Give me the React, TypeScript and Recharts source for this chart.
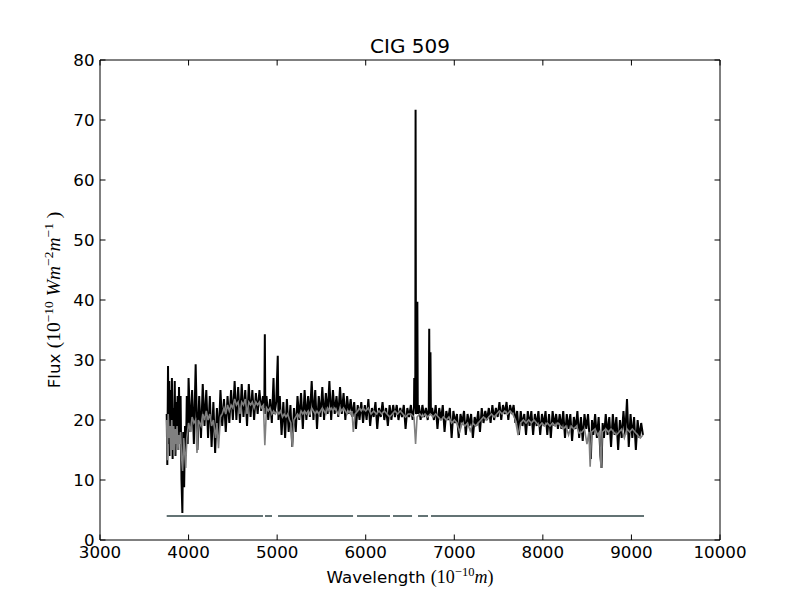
import React from "react";
import { LineChart, Line, XAxis, YAxis, ReferenceLine } from "recharts";

// Observed spectrum (black): [wavelength Å, flux]
const observedSpectrum: [number, number][] = [
  [3753, 21], [3760, 12.5], [3768, 29], [3775, 16], [3782, 26.5], [3790, 14], [3798, 25], [3805, 17],
  [3812, 27], [3820, 13.5], [3828, 22], [3836, 19], [3844, 26.5], [3852, 14], [3860, 23], [3868, 17],
  [3876, 24], [3884, 15], [3892, 25.5], [3900, 17], [3910, 24], [3920, 10], [3930, 4.5], [3940, 18],
  [3950, 8.8], [3960, 19], [3970, 14], [3980, 24], [3990, 16],
  [4000, 27], [4020, 18], [4040, 25], [4060, 16], [4080, 29.3], [4100, 15], [4120, 24], [4140, 17],
  [4160, 26], [4180, 19], [4200, 25], [4220, 17], [4240, 24], [4260, 15.5], [4280, 23], [4300, 14.5],
  [4320, 22], [4340, 17], [4360, 25], [4380, 19], [4400, 23.5], [4420, 18], [4440, 24], [4460, 19.5],
  [4480, 25], [4500, 20], [4520, 26.5], [4540, 20], [4560, 25.5], [4580, 19.5], [4600, 26], [4620, 20.5],
  [4640, 25], [4660, 19], [4680, 26], [4700, 20.5], [4720, 25], [4740, 20], [4760, 24.5], [4780, 21],
  [4800, 25], [4820, 21.5], [4840, 24], [4855, 22], [4861, 34.3], [4867, 21], [4880, 24], [4900, 20],
  [4920, 23.5], [4940, 19.5], [4959, 27], [4970, 21], [4990, 23], [5007, 30.7], [5015, 20], [5030, 24],
  [5050, 17.5], [5070, 23], [5090, 17], [5110, 23.5], [5130, 18], [5150, 22.5], [5170, 15.5], [5190, 22],
  [5210, 18], [5230, 24], [5250, 20], [5270, 24.5], [5290, 18.5], [5310, 25], [5330, 20], [5350, 24],
  [5370, 20.5], [5390, 26.5], [5410, 20], [5430, 25], [5450, 18.5], [5470, 24], [5490, 20.5], [5510, 25.5],
  [5530, 20], [5550, 24.5], [5570, 21], [5590, 26.5], [5610, 20], [5630, 25], [5650, 21], [5670, 24],
  [5690, 20.5], [5710, 25.5], [5730, 21], [5750, 24.5], [5770, 20], [5790, 24], [5810, 21], [5830, 23.5],
  [5850, 20.5], [5870, 23], [5890, 18.5], [5910, 22.5], [5930, 20], [5950, 23], [5970, 19.5], [5990, 22.5],
  [6010, 20], [6030, 23.5], [6050, 19], [6070, 22], [6090, 20.5], [6110, 23], [6130, 18.5], [6150, 22],
  [6170, 20.5], [6190, 23], [6210, 20], [6230, 22], [6250, 19], [6270, 22.5], [6290, 20], [6310, 22.5],
  [6330, 20.5], [6350, 22.5], [6370, 20], [6390, 22], [6410, 20.5], [6430, 22.5], [6450, 18.5], [6470, 22],
  [6490, 20.5], [6510, 22.5], [6530, 20], [6545, 22], [6548, 27], [6552, 22], [6560, 27.5], [6563, 71.7],
  [6568, 21], [6580, 22], [6583, 39.7], [6588, 21], [6600, 22.5], [6620, 20], [6640, 22.5], [6660, 20.5],
  [6680, 22], [6700, 20], [6712, 22], [6717, 35.2], [6722, 21], [6727, 22], [6731, 31.3], [6736, 21],
  [6750, 22], [6770, 20], [6790, 22.5], [6810, 18.5], [6830, 22], [6850, 20], [6870, 22.5], [6890, 18],
  [6910, 21.5], [6930, 20], [6950, 22], [6970, 17], [6990, 21.5], [7010, 19.5], [7030, 21], [7050, 17],
  [7070, 21], [7090, 19.5], [7110, 21.5], [7130, 17.5], [7150, 21], [7170, 19], [7190, 21], [7210, 17],
  [7230, 20.5], [7250, 19], [7270, 21.5], [7290, 18], [7310, 22], [7330, 19.5], [7350, 21.5], [7370, 20],
  [7390, 22], [7410, 19.5], [7430, 22.5], [7450, 20], [7470, 22], [7490, 20.5], [7510, 23], [7530, 20],
  [7550, 22.5], [7570, 21], [7590, 23], [7610, 20], [7630, 22.5], [7650, 21], [7670, 22.5], [7690, 19.5],
  [7710, 21.5], [7730, 17.5], [7750, 21.5], [7770, 19], [7790, 21], [7810, 17.5], [7830, 21.5], [7850, 19],
  [7870, 21.5], [7890, 17.5], [7910, 21], [7930, 19], [7950, 21.5], [7970, 17.5], [7990, 21], [8010, 19],
  [8030, 21.5], [8050, 17.5], [8070, 21], [8090, 17], [8110, 21.5], [8130, 19], [8150, 21], [8170, 18.5],
  [8190, 21], [8210, 18.5], [8230, 21.5], [8250, 17], [8270, 21], [8290, 18.5], [8310, 21], [8330, 16.5],
  [8350, 20.5], [8370, 18.5], [8390, 21.5], [8410, 17], [8430, 20.5], [8450, 16.5], [8470, 21], [8490, 18.5],
  [8510, 21], [8530, 16.5], [8542, 13.5], [8555, 20], [8570, 17.5], [8590, 21], [8610, 17], [8630, 20.5],
  [8650, 14], [8662, 12], [8675, 19.5], [8690, 17], [8710, 21], [8730, 17.5], [8750, 20.5], [8770, 15.5],
  [8790, 21], [8810, 17.5], [8830, 20.5], [8850, 15], [8870, 20], [8890, 17], [8910, 21.5], [8930, 17.5],
  [8950, 23.5], [8970, 15.5], [8990, 21], [9010, 17], [9030, 20.5], [9050, 15], [9070, 20], [9090, 17],
  [9110, 19.5], [9130, 17.5],
];

// Model / synthetic spectrum (grey): [wavelength Å, flux]
const modelSpectrum: [number, number][] = [
  [3753, 20], [3760, 13.3], [3770, 21], [3780, 17], [3790, 19], [3800, 14], [3810, 20], [3820, 15],
  [3830, 19], [3840, 14], [3850, 18.5], [3860, 16], [3870, 19], [3880, 15], [3890, 17.5], [3900, 16],
  [3910, 18], [3920, 14], [3933, 11.5], [3945, 17], [3968, 12], [3980, 17], [4000, 19.5], [4020, 18],
  [4040, 20.5], [4060, 19.5], [4080, 20], [4095, 14.5], [4110, 20], [4140, 19], [4160, 21], [4180, 20],
  [4200, 21.5], [4220, 20], [4240, 21], [4260, 19], [4280, 20], [4305, 17], [4320, 19.5], [4338, 15.3],
  [4360, 20.5], [4380, 21], [4400, 22], [4420, 21], [4440, 22.5], [4460, 21.5], [4480, 22.5], [4500, 22],
  [4520, 23.5], [4540, 22.5], [4560, 23], [4580, 21], [4600, 23], [4620, 22.5], [4640, 23.5], [4660, 21],
  [4680, 23], [4700, 22.5], [4720, 23], [4740, 22], [4760, 23], [4780, 22.5], [4800, 23], [4820, 22],
  [4845, 22.5], [4861, 15.8], [4880, 22], [4900, 21.5], [4920, 22], [4940, 21], [4960, 21.5], [4980, 21],
  [5000, 21.5], [5020, 21], [5040, 21.5], [5060, 20.5], [5080, 21], [5100, 20.5], [5120, 21], [5140, 20],
  [5155, 19.5], [5170, 15.5], [5190, 20], [5210, 20.5], [5230, 21], [5250, 20.5], [5270, 21.5], [5290, 21],
  [5310, 21.5], [5330, 21], [5350, 21.5], [5370, 21], [5390, 22], [5410, 21.5], [5430, 21], [5450, 21.5],
  [5470, 21], [5490, 21.5], [5510, 22], [5530, 21.5], [5550, 21], [5570, 22], [5590, 21.5], [5610, 22],
  [5630, 21.5], [5650, 22], [5670, 21.5], [5690, 21], [5710, 22], [5730, 21.5], [5750, 22], [5770, 21.5],
  [5790, 21], [5810, 21.5], [5830, 21], [5845, 21.5], [5860, 18], [5880, 21], [5910, 21.5], [5930, 22],
  [5950, 21.5], [5970, 22], [6000, 21.5], [6030, 22], [6060, 21], [6090, 21.5], [6120, 21], [6150, 21.5],
  [6180, 21], [6210, 21.5], [6240, 21], [6270, 20.5], [6300, 21], [6330, 21.5], [6360, 21], [6390, 21.5],
  [6420, 21], [6450, 20.5], [6480, 21], [6510, 21], [6545, 20.5], [6563, 16], [6580, 20.5], [6610, 21],
  [6640, 20.5], [6670, 21], [6700, 20.5], [6730, 21], [6760, 20.5], [6790, 21], [6820, 20.5], [6850, 20],
  [6880, 20.5], [6910, 20], [6940, 20.5], [6970, 19.5], [7000, 20], [7030, 19.5], [7060, 18], [7090, 19.5],
  [7120, 19], [7150, 19.5], [7180, 18.2], [7210, 19.5], [7240, 19], [7270, 19.5], [7300, 20], [7330, 20.5],
  [7360, 20], [7390, 20.5], [7420, 21], [7450, 20.5], [7480, 21], [7510, 21.5], [7540, 21], [7570, 21.5],
  [7600, 21], [7630, 21.5], [7660, 21], [7690, 20], [7720, 17.5], [7750, 19.5], [7780, 20], [7810, 19.5],
  [7840, 20], [7870, 19.5], [7900, 20], [7930, 19.5], [7960, 19], [7990, 19.5], [8020, 19], [8050, 19.5],
  [8080, 19], [8110, 19.5], [8140, 19], [8170, 19.5], [8200, 19], [8230, 18.5], [8260, 19], [8290, 17.5],
  [8320, 19], [8350, 18.5], [8380, 19], [8410, 17.8], [8440, 18], [8470, 18.5], [8498, 16], [8520, 18],
  [8534, 12.2], [8550, 18], [8590, 18.5], [8620, 17.5], [8640, 18], [8656, 12], [8672, 18], [8710, 18.5],
  [8740, 18], [8770, 18.5], [8800, 18], [8830, 17.5], [8860, 18], [8890, 18.5], [8920, 17], [8950, 18.5],
  [8980, 18], [9010, 18.5], [9040, 18], [9070, 17.5], [9100, 17], [9130, 17.5],
];

// Good-pixel mask segments drawn at a constant level
const maskLevel = 4;
const maskSegments: [number, number][] = [
  [3753, 4840], [4863, 4942], [5010, 5857], [5902, 6274], [6308, 6523], [6590, 6703], [6737, 9142],
];

const xTicks = [3000, 4000, 5000, 6000, 7000, 8000, 9000, 10000];
const yTicks = [0, 10, 20, 30, 40, 50, 60, 70, 80];

const observedData = observedSpectrum.map(([w, f]) => ({ w, f }));
const modelData = modelSpectrum.map(([w, f]) => ({ w, f }));

const SANS = "'DejaVu Sans', sans-serif";
const SERIF = "'Liberation Serif', 'DejaVu Serif', serif";
const TICK_FS = 16.7;
const TL = 5.5;

const BottomTick = (props: any) => {
  const { x, y, payload } = props;
  return (
    <g>
      <line x1={x} y1={y} x2={x} y2={y - TL} stroke="#000" strokeWidth={1} />
      <text x={x} y={y + 17.5} textAnchor="middle" fontFamily={SANS} fontSize={TICK_FS} fill="#000">
        {payload.value}
      </text>
    </g>
  );
};
const TopTick = (props: any) => {
  const { x, y } = props;
  return <line x1={x} y1={y} x2={x} y2={y + TL} stroke="#000" strokeWidth={1} />;
};
const LeftTick = (props: any) => {
  const { x, y, payload } = props;
  return (
    <g>
      <line x1={x} y1={y} x2={x + TL} y2={y} stroke="#000" strokeWidth={1} />
      <text x={x - 5.5} y={y} dy="0.36em" textAnchor="end" fontFamily={SANS} fontSize={TICK_FS} fill="#000">
        {payload.value}
      </text>
    </g>
  );
};
const RightTick = (props: any) => {
  const { x, y } = props;
  return <line x1={x} y1={y} x2={x - TL} y2={y} stroke="#000" strokeWidth={1} />;
};

export default function App() {
  return (
    <div style={{ position: "absolute", left: 0, top: 0, width: 800, height: 600, background: "#fff" }}>
      <LineChart width={800} height={600} margin={{ top: 50, right: 70, bottom: 30, left: 50 }}>
        <XAxis
          xAxisId="b"
          dataKey="w"
          type="number"
          domain={[3000, 10000]}
          ticks={xTicks}
          allowDataOverflow
          orientation="bottom"
          height={30}
          tickSize={0}
          tickMargin={0}
          tickLine={false}
          tick={<BottomTick />}
          axisLine={{ stroke: "#000", strokeWidth: 1 }}
          interval={0}
        />
        <XAxis
          xAxisId="t"
          dataKey="w"
          type="number"
          domain={[3000, 10000]}
          ticks={xTicks}
          allowDataOverflow
          orientation="top"
          height={10}
          tickSize={0}
          tickMargin={0}
          tickLine={false}
          tick={<TopTick />}
          axisLine={{ stroke: "#000", strokeWidth: 1 }}
          interval={0}
        />
        <YAxis
          yAxisId="l"
          type="number"
          domain={[0, 80]}
          ticks={yTicks}
          allowDataOverflow
          orientation="left"
          width={50}
          tickSize={0}
          tickMargin={0}
          tickLine={false}
          tick={<LeftTick />}
          axisLine={{ stroke: "#000", strokeWidth: 1 }}
          interval={0}
        />
        <YAxis
          yAxisId="r"
          type="number"
          domain={[0, 80]}
          ticks={yTicks}
          allowDataOverflow
          orientation="right"
          width={10}
          tickSize={0}
          tickMargin={0}
          tickLine={false}
          tick={<RightTick />}
          axisLine={{ stroke: "#000", strokeWidth: 1 }}
          interval={0}
        />
        {maskSegments.map(([s, e], i) => (
          <ReferenceLine
            key={i}
            xAxisId="b"
            yAxisId="l"
            segment={[{ x: s, y: maskLevel }, { x: e, y: maskLevel }]}
            stroke="#637374"
            strokeWidth={2}
            ifOverflow="visible"
          />
        ))}
        <Line
          xAxisId="b"
          yAxisId="l"
          data={observedData}
          dataKey="f"
          type="linear"
          stroke="#000"
          strokeWidth={2}
          dot={false}
          isAnimationActive={false}
        />
        <Line
          xAxisId="b"
          yAxisId="l"
          data={modelData}
          dataKey="f"
          type="linear"
          stroke="#808080"
          strokeWidth={1.6}
          dot={false}
          isAnimationActive={false}
        />
      </LineChart>
      <svg
        width={800}
        height={600}
        style={{ position: "absolute", left: 0, top: 0, pointerEvents: "none" }}
      >
        <text x={410} y={53} textAnchor="middle" fontFamily={SANS} fontSize={20} fill="#000">
          CIG 509
        </text>
        <text x={410} y={583} textAnchor="middle" fontSize={16.7} fill="#000">
          <tspan fontFamily={SANS}>Wavelength </tspan>
          <tspan fontFamily={SERIF} fontSize={18}>(10</tspan>
          <tspan fontFamily={SERIF} fontSize={12.5} dy={-7}>−10</tspan>
          <tspan fontFamily={SERIF} fontSize={18} fontStyle="italic" dy={7}>m</tspan>
          <tspan fontFamily={SERIF} fontSize={18}>)</tspan>
        </text>
        <text transform="translate(60,300) rotate(-90)" x={0} y={0} textAnchor="middle" fontSize={16.7} fill="#000">
          <tspan fontFamily={SANS}>Flux </tspan>
          <tspan fontFamily={SERIF} fontSize={19.5}>(10</tspan>
          <tspan fontFamily={SERIF} fontSize={13.5} dy={-7}>−10</tspan>
          <tspan fontFamily={SERIF} fontSize={19.5} fontStyle="italic" dy={7}> Wm</tspan>
          <tspan fontFamily={SERIF} fontSize={13.5} dy={-7}>−2</tspan>
          <tspan fontFamily={SERIF} fontSize={19.5} fontStyle="italic" dy={7}>m</tspan>
          <tspan fontFamily={SERIF} fontSize={13.5} dy={-7}>−1</tspan>
          <tspan fontFamily={SERIF} fontSize={19.5} dy={7}> )</tspan>
        </text>
      </svg>
    </div>
  );
}
